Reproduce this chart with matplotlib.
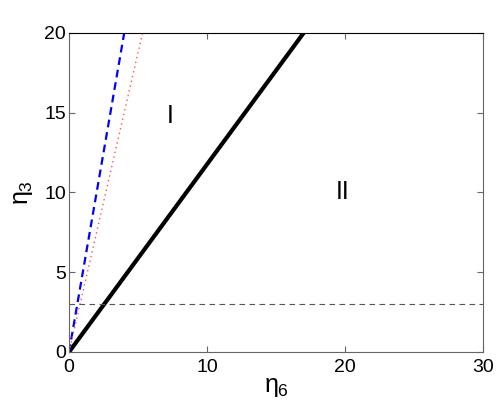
import numpy as np
import matplotlib.pyplot as plt

plt.rcParams['font.family'] = ['Liberation Sans', 'DejaVu Sans']
plt.rcParams['mathtext.fontset'] = 'custom'
plt.rcParams['mathtext.rm'] = 'Liberation Sans'
plt.rcParams['mathtext.it'] = 'Liberation Sans'

# boundary lines eta3 = slope * eta6
eta6_end = [17.0, 4.0, 5.33]
line_names = ['solid', 'blue', 'red']
h_level = 3.0
region_labels = ['I', 'II']
region_x = [7.3, 19.8]
region_y = [14.8, 10.0]
xticks = [0, 10, 20, 30]
yticks = [0, 5, 10, 15, 20]

fig = plt.figure(figsize=(4.98, 4.05), dpi=100)
ax = fig.add_axes([0.1386, 0.1309, 0.8313, 0.7877])

ax.plot([0, eta6_end[0]], [0, 20], color='black', lw=3)
ax.plot([0, eta6_end[1]], [0, 20], color='blue', lw=1.6, ls=(0, (3.5, 2.2)))
ax.plot([0, eta6_end[2]], [0, 20], color='#ff5050', lw=1, ls=(0, (1, 2.5)))
ax.plot([0, 30], [h_level, h_level], color='#555555', lw=0.8, ls=(0, (5, 4)))

for lab, x, y in zip(region_labels, region_x, region_y):
    ax.text(x, y, lab, fontsize=18, ha='center', va='center')

ax.set_xlim(0, 30)
ax.set_ylim(0, 20)
ax.set_xticks(xticks)
ax.set_yticks(yticks)
ax.tick_params(direction='in', top=True, right=True, labelsize=14, length=4,
               color='#666666')
ax.tick_params(axis='x', pad=5)
ax.tick_params(axis='y', pad=2)
for s in ax.spines.values():
    s.set_color('#666666')
ax.spines['top'].set_color('black')
ax.set_xlabel(r'$\eta_6$', fontsize=18, labelpad=-1)
ax.set_ylabel(r'$\eta_3$', fontsize=18, labelpad=7)

fig.savefig('out.png', dpi=100)
